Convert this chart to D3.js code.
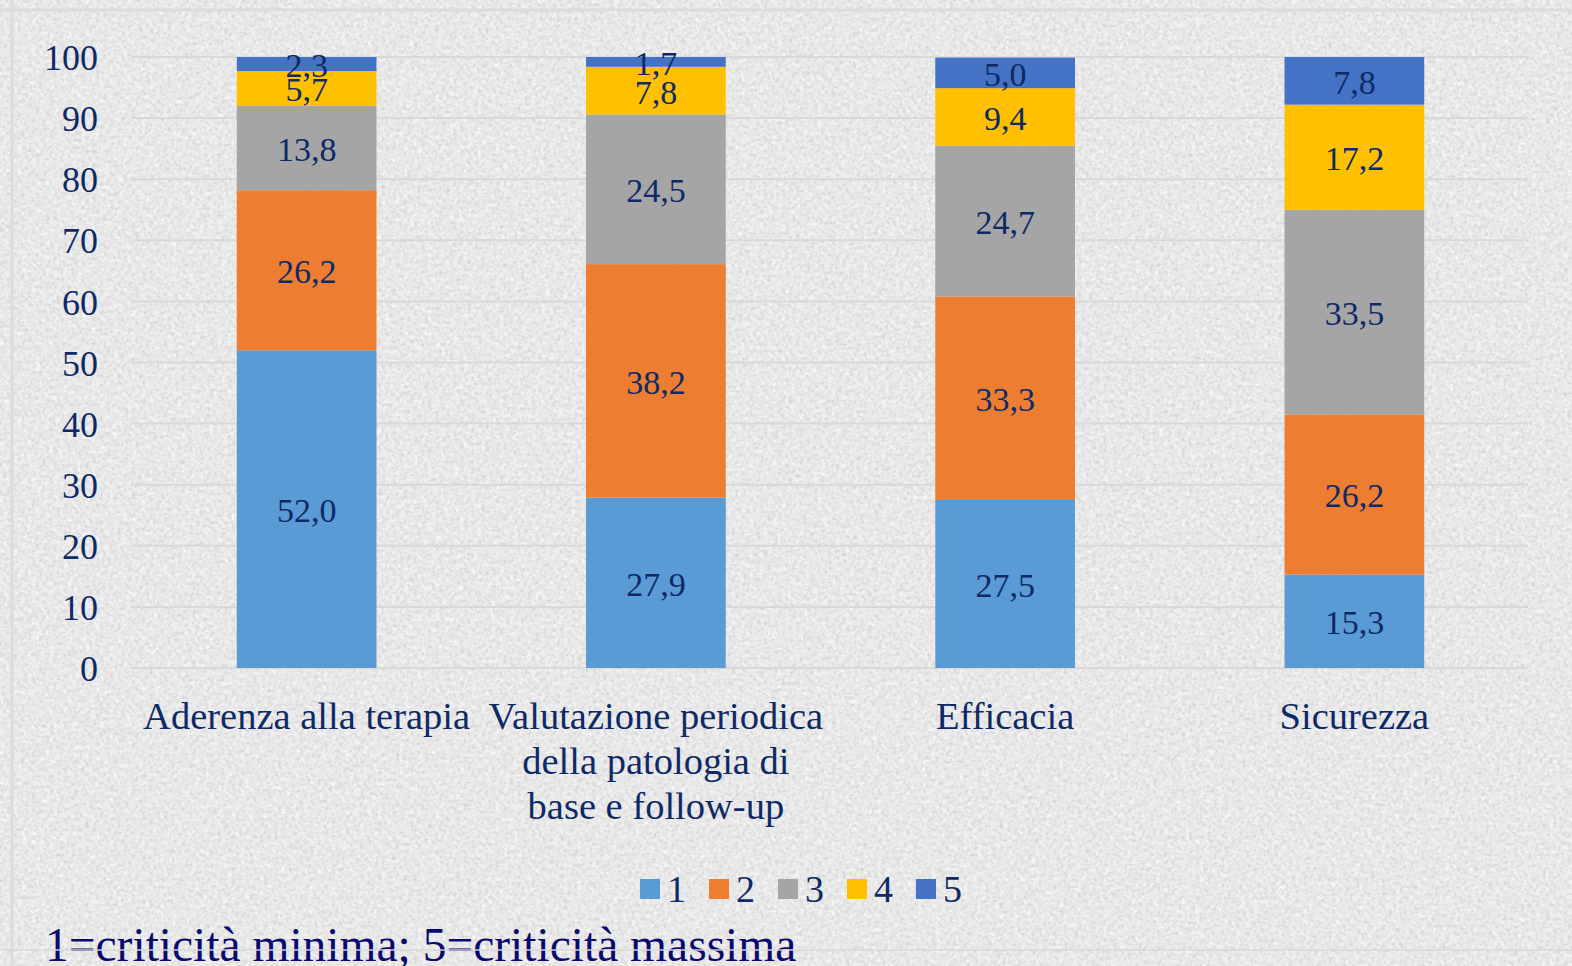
<!DOCTYPE html>
<html>
<head>
<meta charset="utf-8">
<script src="https://cdnjs.cloudflare.com/ajax/libs/d3/7.8.5/d3.min.js"></script>
<style>
  html, body { margin: 0; padding: 0; background: #ececec; }
  svg { display: block; }
  text { font-family: 'Liberation Serif', 'Times New Roman', serif; }
</style>
</head>
<body>
<div id="chart"></div>
<script>
var w = 1572;
var h = 966;

// data
var categories = [
  ["Aderenza alla terapia"],
  ["Valutazione periodica", "della patologia di", "base e follow-up"],
  ["Efficacia"],
  ["Sicurezza"]
];
var seriesNames = ["1", "2", "3", "4", "5"];
var s1 = [52.0, 27.9, 27.5, 15.3];
var s2 = [26.2, 38.2, 33.3, 26.2];
var s3 = [13.8, 24.5, 24.7, 33.5];
var s4 = [5.7, 7.8, 9.4, 17.2];
var s5 = [2.3, 1.7, 5.0, 7.8];
var yTicks = [0, 10, 20, 30, 40, 50, 60, 70, 80, 90, 100];
var footnote = "1=criticità minima; 5=criticità massima";

var colors = ["#5b9bd5", "#ed7d31", "#a5a5a5", "#ffc000", "#4472c4"];
var textColor = "#0e2a66";

var svg = d3.select("#chart")
            .append("svg")
            .attr("width", w)
            .attr("height", h);

// granite-ish background
var defs = svg.append("defs");
var f = defs.append("filter").attr("id", "grain")
  .attr("x", 0).attr("y", 0).attr("width", "100%").attr("height", "100%");
f.append("feTurbulence").attr("type", "fractalNoise")
  .attr("baseFrequency", 0.28).attr("numOctaves", 3).attr("seed", 7).attr("result", "n");
f.append("feColorMatrix").attr("type", "matrix")
  .attr("values", "0 0 0 0 0.6  0 0 0 0 0.6  0 0 0 0 0.6  2.2 0 0 0 -1.0");
var f2 = defs.append("filter").attr("id", "grain2")
  .attr("x", 0).attr("y", 0).attr("width", "100%").attr("height", "100%");
f2.append("feTurbulence").attr("type", "fractalNoise")
  .attr("baseFrequency", 0.22).attr("numOctaves", 2).attr("seed", 3);
f2.append("feColorMatrix").attr("type", "matrix")
  .attr("values", "0 0 0 0 1  0 0 0 0 1  0 0 0 0 1  -2.2 0 0 0 1.2");
svg.append("rect").attr("width", w).attr("height", h).attr("fill", "#e9e9e9");
svg.append("rect").attr("width", w).attr("height", h).attr("filter", "url(#grain2)").attr("opacity", 0.8);
svg.append("rect").attr("width", w).attr("height", h).attr("filter", "url(#grain)").attr("opacity", 0.8);

// faint slide frame lines
svg.append("line").attr("x1", 12).attr("x2", 12).attr("y1", 0).attr("y2", h)
  .attr("stroke", "#dcdcdc").attr("stroke-width", 3);
svg.append("line").attr("x1", 0).attr("x2", w).attr("y1", 10).attr("y2", 10)
  .attr("stroke", "#dcdcdc").attr("stroke-width", 3);

// scales
var xScale = d3.scaleBand()
  .domain(d3.range(categories.length))
  .range([132, 1529])
  .paddingInner(0.6)
  .paddingOuter(0.3);
var yScale = d3.scaleLinear().domain([0, 100]).range([668, 57]);

// gridlines
svg.append("g").selectAll("line")
  .data(yTicks).enter().append("line")
  .attr("x1", 131).attr("x2", 1528)
  .attr("y1", d => yScale(d)).attr("y2", d => yScale(d))
  .attr("stroke", "#d9d9d9").attr("stroke-width", 2);

// y axis
var yAxis = d3.axisLeft(yScale).tickValues(yTicks).tickSize(0).tickPadding(0);
var gy = svg.append("g").attr("transform", "translate(98,0)").call(yAxis)
  .attr("font-family", null).attr("font-size", null);
gy.select(".domain").remove();
gy.selectAll("text")
  .attr("fill", textColor)
  .style("font-size", "36px")
  .attr("dy", "0.35em");

// stacks
var rows = categories.map((c, i) => ({ i: i, v: [s1[i], s2[i], s3[i], s4[i], s5[i]] }));
var stack = d3.stack().keys([0, 1, 2, 3, 4]).value((d, k) => d.v[k]);
var layers = stack(rows);

var gl = svg.append("g").selectAll("g")
  .data(layers).enter().append("g")
  .attr("fill", (d, k) => colors[k]);

gl.selectAll("rect")
  .data(d => d).enter().append("rect")
  .attr("x", d => xScale(d.data.i))
  .attr("width", xScale.bandwidth())
  .attr("y", d => yScale(Math.min(d[1], 100)))
  .attr("height", d => yScale(d[0]) - yScale(Math.min(d[1], 100)));

// data labels
var fmt = v => v.toFixed(1).replace(".", ",");
svg.append("g").selectAll("g")
  .data(layers).enter().append("g")
  .selectAll("text")
  .data((d) => d.map(p => ({ p: p, k: d.key })))
  .enter().append("text")
  .attr("x", d => xScale(d.p.data.i) + xScale.bandwidth() / 2)
  .attr("y", d => yScale((d.p[0] + Math.min(d.p[1], 100)) / 2) + 1)
  .attr("dy", "0.35em")
  .attr("text-anchor", "middle")
  .attr("fill", textColor)
  .style("font-size", "34px")
  .text(d => fmt(d.p.data.v[d.k]));

// category labels
var gc = svg.append("g").selectAll("text")
  .data(categories).enter().append("text")
  .attr("x", (d, i) => xScale(i) + xScale.bandwidth() / 2)
  .attr("y", 729)
  .attr("text-anchor", "middle")
  .attr("fill", textColor)
  .style("font-size", "38.5px");
gc.selectAll("tspan")
  .data(d => d).enter().append("tspan")
  .attr("x", function() { return d3.select(this.parentNode).attr("x"); })
  .attr("dy", (d, j) => j === 0 ? 0 : 45)
  .text(d => d);

// legend
var legend = svg.append("g").attr("transform", "translate(640,879)");
var li = legend.selectAll("g")
  .data(seriesNames).enter().append("g")
  .attr("transform", (d, i) => "translate(" + (i * 69) + ",0)");
li.append("rect").attr("width", 20).attr("height", 20).attr("fill", (d, i) => colors[i]);
li.append("text").attr("x", 27).attr("y", 10).attr("dy", "0.35em")
  .attr("fill", textColor).style("font-size", "38px").text(d => d);

// footnote
svg.append("text")
  .attr("x", 45).attr("y", 961)
  .attr("fill", "#0a0a6e")
  .style("font-size", "47.5px")
  .text(footnote);

// frame line drawn over the footnote, as on the slide
svg.append("line").attr("x1", 0).attr("x2", w).attr("y1", 950).attr("y2", 950)
  .attr("stroke", "#d8d8d8").attr("stroke-width", 2).attr("opacity", 0.7);
</script>
</body>
</html>
